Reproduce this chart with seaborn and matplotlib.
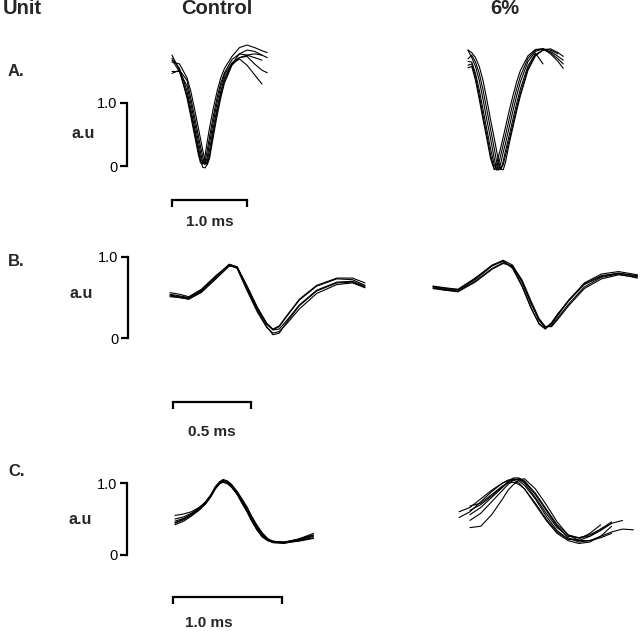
import numpy as np
import pandas as pd
import seaborn as sns
import matplotlib.pyplot as plt

# ---- data: time in ms, amplitude in a.u. ----
nan = np.nan

# Unit A
t_a_ctrl = [0.0, 0.1, 0.2, 0.25, 0.3, 0.35, 0.38, 0.41, 0.44, 0.47, 0.5, 0.55, 0.6, 0.65, 0.7, 0.8, 0.9, 1.0, 1.1, 1.2, 1.27]
a_ctrl = [
    [1.76, 1.52, 1.08, 0.79, 0.49, 0.19, 0.05, 0.03, 0.16, 0.39, 0.60, 0.91, 1.18, 1.40, 1.55, 1.74, 1.88, 1.92, 1.88, 1.83, 1.80],
    [1.71, 1.55, 1.19, 0.91, 0.61, 0.31, 0.14, 0.04, 0.07, 0.25, 0.46, 0.79, 1.08, 1.32, 1.48, 1.69, 1.78, 1.76, 1.72, 1.68, nan],
    [1.50, 1.50, 1.27, 1.00, 0.70, 0.40, 0.22, 0.06, 0.02, 0.14, 0.36, 0.70, 1.00, 1.26, 1.45, 1.64, 1.72, 1.74, 1.62, 1.52, 1.48],
    [1.47, 1.52, 1.36, 1.08, 0.79, 0.49, 0.31, 0.14, 0.04, 0.07, 0.25, 0.60, 0.91, 1.18, 1.40, 1.62, 1.70, 1.60, 1.45, 1.30, nan],
    [1.65, 1.62, 1.40, 1.19, 0.91, 0.61, 0.43, 0.25, 0.09, 0.02, 0.12, 0.46, 0.79, 1.08, 1.32, 1.60, 1.72, 1.76, 1.78, 1.76, nan],
    [1.68, 1.50, 1.13, 0.85, 0.55, 0.25, 0.09, -0.02, -0.03, 0.03, 0.16, 0.53, 0.85, 1.13, 1.36, 1.62, 1.78, 1.84, 1.82, 1.76, 1.72],
]
t_a_6 = [0.0, 0.05, 0.1, 0.15, 0.2, 0.25, 0.3, 0.35, 0.38, 0.41, 0.44, 0.47, 0.5, 0.55, 0.6, 0.65, 0.7, 0.8, 0.9, 1.0, 1.1, 1.2, 1.27]
a_6 = [
    [1.56, 1.58, 1.36, 1.06, 0.74, 0.44, 0.12, -0.06, 0.02, 0.17, 0.31, 0.46, 0.62, 0.88, 1.12, 1.34, 1.52, 1.75, 1.85, 1.86, 1.84, 1.78, nan],
    [1.66, 1.65, 1.47, 1.21, 0.90, 0.59, 0.28, 0.02, -0.06, 0.04, 0.19, 0.34, 0.49, 0.75, 1.00, 1.23, 1.43, 1.71, 1.84, 1.86, 1.80, 1.70, 1.62],
    [1.84, 1.72, 1.58, 1.36, 1.06, 0.74, 0.44, 0.12, -0.04, -0.06, 0.06, 0.22, 0.36, 0.62, 0.88, 1.12, 1.34, 1.66, 1.82, 1.86, 1.78, 1.66, 1.55],
    [1.70, 1.76, 1.65, 1.47, 1.21, 0.90, 0.59, 0.28, 0.08, -0.04, -0.05, 0.08, 0.24, 0.49, 0.75, 1.00, 1.23, 1.59, 1.79, 1.62, nan, nan, nan],
    [1.84, 1.80, 1.72, 1.58, 1.36, 1.06, 0.74, 0.44, 0.25, 0.06, -0.05, -0.06, 0.06, 0.36, 0.62, 0.88, 1.12, 1.52, 1.75, 1.84, 1.86, 1.80, 1.74],
    [1.60, 1.62, 1.42, 1.12, 0.80, 0.50, 0.18, -0.04, -0.06, -0.06, -0.04, 0.02, 0.17, 0.41, 0.67, 0.93, 1.16, 1.55, 1.77, 1.84, 1.82, 1.74, 1.68],
]

# Unit B
t_b_ctrl = [0.0, 0.06, 0.12, 0.2, 0.3, 0.38, 0.43, 0.49, 0.56, 0.62, 0.66, 0.7, 0.75, 0.83, 0.94, 1.07, 1.17, 1.25]
b_ctrl = [
    [0.54, 0.52, 0.50, 0.58, 0.77, 0.91, 0.88, 0.64, 0.36, 0.17, 0.10, 0.14, 0.27, 0.47, 0.64, 0.73, 0.72, 0.65],
    [0.52, 0.50, 0.48, 0.57, 0.75, 0.89, 0.87, 0.64, 0.37, 0.18, 0.11, 0.15, 0.28, 0.48, 0.65, 0.74, 0.74, 0.68],
    [0.56, 0.54, 0.51, 0.60, 0.78, 0.90, 0.86, 0.60, 0.32, 0.13, 0.06, 0.08, 0.18, 0.36, 0.55, 0.66, 0.68, 0.62],
    [0.51, 0.50, 0.48, 0.56, 0.74, 0.89, 0.88, 0.66, 0.38, 0.18, 0.10, 0.11, 0.22, 0.41, 0.59, 0.69, 0.70, 0.64],
    [0.53, 0.51, 0.49, 0.59, 0.77, 0.91, 0.87, 0.62, 0.34, 0.14, 0.04, 0.06, 0.20, 0.40, 0.58, 0.68, 0.69, 0.63],
]
t_b_6 = [0.0, 0.08, 0.16, 0.27, 0.38, 0.45, 0.51, 0.57, 0.63, 0.68, 0.72, 0.76, 0.8, 0.87, 0.97, 1.08, 1.19, 1.31]
b_6 = [
    [0.64, 0.61, 0.60, 0.74, 0.90, 0.96, 0.90, 0.70, 0.42, 0.22, 0.13, 0.17, 0.28, 0.46, 0.68, 0.79, 0.82, 0.78],
    [0.62, 0.59, 0.58, 0.70, 0.86, 0.93, 0.88, 0.69, 0.42, 0.22, 0.14, 0.14, 0.23, 0.40, 0.61, 0.73, 0.78, 0.75],
    [0.63, 0.60, 0.59, 0.72, 0.89, 0.95, 0.87, 0.65, 0.37, 0.17, 0.11, 0.18, 0.29, 0.47, 0.67, 0.77, 0.80, 0.77],
    [0.61, 0.59, 0.57, 0.69, 0.85, 0.92, 0.89, 0.72, 0.45, 0.24, 0.14, 0.15, 0.25, 0.42, 0.63, 0.75, 0.79, 0.74],
    [0.64, 0.62, 0.60, 0.73, 0.90, 0.95, 0.86, 0.64, 0.36, 0.18, 0.12, 0.19, 0.30, 0.46, 0.66, 0.76, 0.80, 0.76],
]

# Unit C
t_c_ctrl = [0.0, 0.08, 0.15, 0.22, 0.28, 0.33, 0.37, 0.41, 0.44, 0.48, 0.52, 0.57, 0.61, 0.66, 0.7, 0.75, 0.8, 0.85, 0.9, 1.0, 1.13, 1.27]
c_ctrl = [
    [0.55, 0.57, 0.60, 0.66, 0.73, 0.83, 0.94, 1.01, 1.05, 1.03, 0.98, 0.88, 0.78, 0.65, 0.53, 0.40, 0.29, 0.22, 0.19, 0.18, 0.22, 0.28],
    [0.50, 0.53, 0.58, 0.65, 0.73, 0.83, 0.93, 1.00, 1.03, 1.02, 0.97, 0.87, 0.77, 0.64, 0.52, 0.39, 0.28, 0.21, 0.18, 0.17, 0.20, 0.24],
    [0.44, 0.49, 0.55, 0.63, 0.71, 0.81, 0.92, 0.99, 1.02, 1.01, 0.97, 0.88, 0.79, 0.67, 0.55, 0.42, 0.31, 0.23, 0.19, 0.17, 0.19, 0.23],
    [0.42, 0.47, 0.54, 0.62, 0.71, 0.82, 0.93, 1.00, 1.02, 1.00, 0.94, 0.84, 0.73, 0.60, 0.48, 0.35, 0.25, 0.20, 0.17, 0.16, 0.20, 0.26],
    [0.47, 0.51, 0.56, 0.64, 0.72, 0.82, 0.92, 0.99, 1.01, 0.99, 0.94, 0.85, 0.75, 0.62, 0.50, 0.37, 0.26, 0.20, 0.18, 0.17, 0.22, 0.30],
    [0.45, 0.50, 0.57, 0.65, 0.74, 0.84, 0.95, 1.02, 1.04, 1.01, 0.95, 0.85, 0.74, 0.61, 0.49, 0.36, 0.26, 0.21, 0.19, 0.18, 0.21, 0.27],
]
t_c_6 = [0.0, 0.1, 0.2, 0.3, 0.4, 0.45, 0.5, 0.55, 0.6, 0.7, 0.8, 0.9, 1.0, 1.1, 1.2, 1.3, 1.4, 1.5, 1.6]
c_6 = [
    [0.52, 0.60, 0.74, 0.88, 1.00, 1.04, 1.06, 1.03, 0.97, 0.78, 0.54, 0.34, 0.22, 0.22, 0.30, 0.42, nan, nan, nan],
    [nan, 0.68, 0.72, 0.84, 0.96, 1.00, 1.01, 0.98, 0.92, 0.72, 0.50, 0.32, 0.22, 0.20, 0.26, 0.36, 0.46, nan, nan],
    [nan, 0.48, 0.58, 0.74, 0.90, 0.98, 1.04, 1.06, 1.02, 0.84, 0.62, 0.40, 0.24, 0.18, 0.20, 0.26, 0.32, 0.36, 0.35],
    [nan, 0.38, 0.40, 0.56, 0.78, 0.90, 0.98, 1.04, 1.06, 0.92, 0.70, 0.46, 0.28, 0.20, 0.20, 0.24, 0.30, nan, nan],
    [0.60, 0.66, 0.78, 0.90, 1.00, 1.03, 1.04, 1.00, 0.92, 0.70, 0.48, 0.30, 0.20, 0.16, 0.18, 0.26, 0.40, nan, nan],
    [nan, 0.56, 0.66, 0.80, 0.94, 1.01, 1.05, 1.05, 1.00, 0.80, 0.58, 0.38, 0.26, 0.24, 0.28, 0.36, 0.44, nan, nan],
    [nan, 0.62, 0.70, 0.82, 0.95, 1.02, 1.07, 1.07, 1.03, 0.86, 0.64, 0.42, 0.28, 0.24, 0.26, 0.34, 0.44, 0.48, nan],
]

units = ["A.", "B.", "C."]
conditions = ["Control", "6%"]
scale_ms = [1.0, 0.5, 1.0]
scale_labels = ["1.0 ms", "0.5 ms", "1.0 ms"]
y_ticks = [0, 1]
y_ticklabels = ["0", "1.0"]


def to_frame(t, traces):
    rows = []
    for i, tr in enumerate(traces):
        for tt, v in zip(t, tr):
            rows.append((i, tt, v))
    return pd.DataFrame(rows, columns=["trace", "t", "amp"]).dropna()


data = [
    (to_frame(t_a_ctrl, a_ctrl), to_frame(t_a_6, a_6)),
    (to_frame(t_b_ctrl, b_ctrl), to_frame(t_b_6, b_6)),
    (to_frame(t_c_ctrl, c_ctrl), to_frame(t_c_6, c_6)),
]

# ---- layout in pixels (figure is 640 x 631) ----
W, H = 640, 631
layout = [
    dict(bar_x=127, ox=(172, 468), y0=166, pxpm=75, pxpu=63, ylim=(-0.3, 2.1),
         sb_x=172, sb_y=200, lab=(210, 222), letter_y=72, au=(83, 133)),
    dict(bar_x=128, ox=(170, 433), y0=338, pxpm=156, pxpu=81, ylim=(-0.2, 1.2),
         sb_x=173, sb_y=402, lab=(212, 432), letter_y=262, au=(81, 293)),
    dict(bar_x=127, ox=(175, 459), y0=555, pxpm=109, pxpu=72, ylim=(-0.1, 1.3),
         sb_x=173, sb_y=597, lab=(209, 623), letter_y=472, au=(80, 520)),
]

sns.set_style("white")
plt.rcParams["font.family"] = ["Liberation Sans", "DejaVu Sans"]

fig = plt.figure(figsize=(6.4, 6.31), dpi=100)


def add_px_axes(left, top, w, h):
    return fig.add_axes([left / W, 1 - (top + h) / H, w / W, h / H])


def ftext(x, y, s, **kw):
    fig.text(x / W, 1 - y / H, s, va="center", **kw)


ftext(3, 9, "Unit", ha="left", fontsize=14.5, fontweight="bold")
ftext(217, 9, conditions[0], ha="center", fontsize=14.5, fontweight="bold")
ftext(505, 9, conditions[1], ha="center", fontsize=14.5, fontweight="bold")

for r, lay in enumerate(layout):
    amin, amax = lay["ylim"]
    top = lay["y0"] - amax * lay["pxpu"]
    h = (amax - amin) * lay["pxpu"]
    for c in range(2):
        ox = lay["ox"][c]
        tmin = (lay["bar_x"] - ox) / lay["pxpm"] if c == 0 else -0.1
        tmax = 1.8
        ax = add_px_axes(ox + tmin * lay["pxpm"], top, (tmax - tmin) * lay["pxpm"], h)
        sns.lineplot(data=data[r][c], x="t", y="amp", units="trace", estimator=None,
                     color="black", linewidth=0.8, legend=False, ax=ax)
        ax.set_xlim(tmin, tmax)
        ax.set_ylim(amin, amax)
        ax.set_xlabel("")
        ax.set_ylabel("")
        ax.set_xticks([])
        ax.patch.set_alpha(0)
        for s in ["top", "right", "bottom"]:
            ax.spines[s].set_visible(False)
        if c == 0:
            ax.spines["left"].set_bounds(0, 1)
            ax.spines["left"].set_linewidth(1.6)
            ax.spines["left"].set_color("black")
            ax.set_yticks(y_ticks)
            ax.set_yticklabels(y_ticklabels)
            ax.tick_params(axis="y", left=True, length=5, width=1.6, pad=2,
                           labelsize=10.5, colors="black")
        else:
            ax.spines["left"].set_visible(False)
            ax.set_yticks([])

    # time scale bar
    sb = add_px_axes(lay["sb_x"], lay["sb_y"], scale_ms[r] * lay["pxpm"], 10)
    sb.set_xlim(0, scale_ms[r])
    sb.set_yticks([])
    sb.set_xticks([0, scale_ms[r]])
    sb.xaxis.set_ticks_position("top")
    sb.tick_params(axis="x", top=True, bottom=False, direction="in", length=5,
                   width=1.6, labeltop=False, labelbottom=False, colors="black")
    for s in ["left", "right", "bottom"]:
        sb.spines[s].set_visible(False)
    sb.spines["top"].set_linewidth(1.6)
    sb.spines["top"].set_color("black")
    sb.patch.set_alpha(0)

    ftext(lay["lab"][0], lay["lab"][1], scale_labels[r], ha="center",
          fontsize=11, fontweight="bold")
    ftext(8, lay["letter_y"], units[r], ha="left", fontsize=12, fontweight="bold")
    ftext(lay["au"][0], lay["au"][1], "a.u", ha="center", fontsize=11.5, fontweight="bold")

fig.savefig("out.png", dpi=100)
